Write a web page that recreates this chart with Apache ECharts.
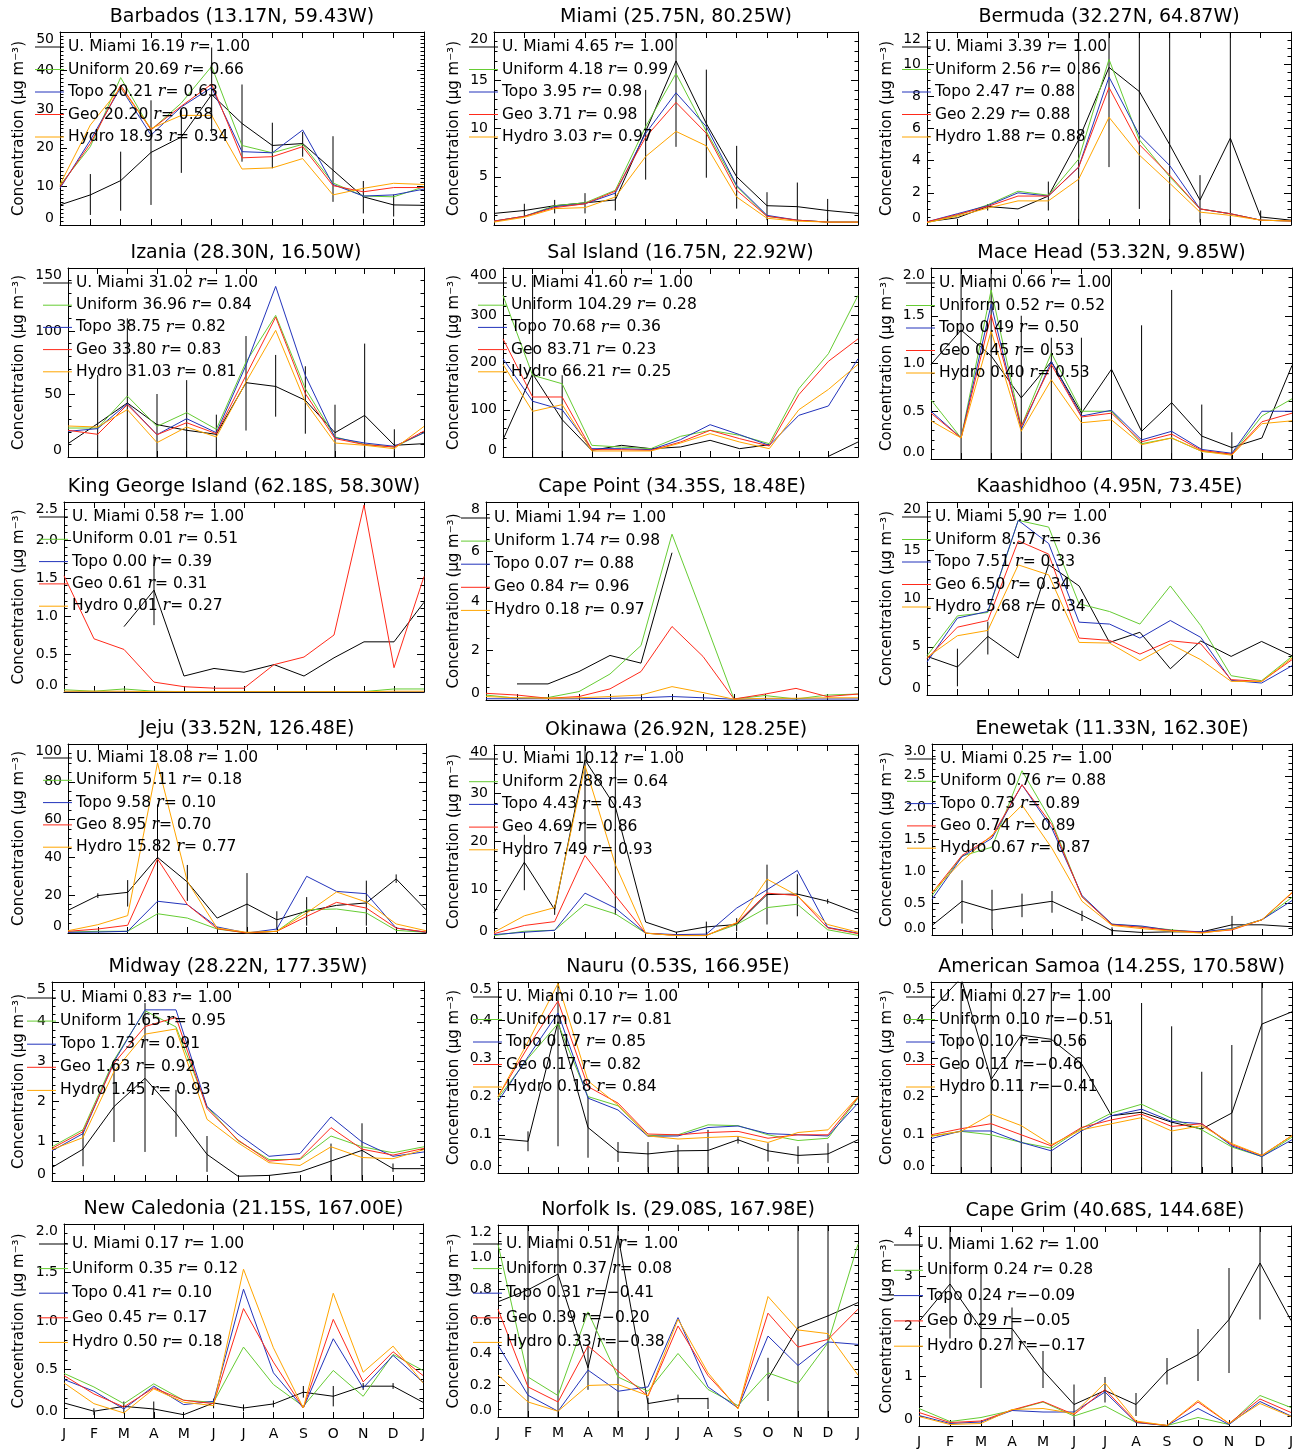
<!DOCTYPE html>
<html><head><meta charset="utf-8">
<script src="https://cdn.jsdelivr.net/npm/echarts@6/dist/echarts.min.js"></script>
<style>html,body{margin:0;padding:0;background:#fff}#c{width:1304px;height:1449px}</style>
</head><body><div id="c"></div>
<script>
const MONTHS = ['J','F','M','A','M','J','J','A','S','O','N','D','J'];
const MODEL_NAMES = ['U. Miami','Uniform','Topo','Geo','Hydro'];
const MODEL_COLORS = ['#000000','#66cc33','#2233bb','#ff2a1a','#ffa500'];

// ---- Barbados
const barbadosUMiami = [5.2, 7.8, 11.5, 18.8, 22.8, 33.8, 26.3, 20.6, 21.1, 14.2, 7.3, 5.2, 5.1];
const barbadosUniform = [10.3, 20.3, 38.2, 24.6, 31.6, 41.1, 20.6, 18.7, 20.9, 10.9, 7.5, 7.3, 9.9];
const barbadosTopo = [9.5, 22.0, 35.6, 23.3, 30.6, 35.6, 19.0, 18.7, 24.6, 10.5, 7.5, 7.8, 9.3];
const barbadosGeo = [9.9, 21.1, 36.2, 24.7, 30.8, 36.5, 17.4, 17.7, 20.3, 10.2, 8.6, 9.7, 9.7];
const barbadosHydro = [10.5, 25.9, 35.6, 25.0, 28.4, 28.4, 14.5, 14.8, 17.2, 7.8, 9.5, 10.8, 10.5];
const barbadosErrLo = [null, 2.6, 3.7, 5.2, 13.5, 23.7, 16.4, 14.7, 17.7, 6.0, 3.0, 2.2, null];
const barbadosErrHi = [null, 13.2, 19.0, 32.3, 29.7, 46.0, 36.4, 26.5, 24.1, 23.0, 11.4, 7.9, null];
const barbadosMeans = [16.19, 20.69, 20.21, 20.20, 18.93];
const barbadosR = [1.00, 0.66, 0.63, 0.58, 0.34];

// ---- Miami
const miamiUMiami = [1.2, 1.5, 2.0, 2.3, 2.6, 9.7, 17.0, 10.5, 5.0, 2.0, 1.9, 1.5, 1.2];
const miamiUniform = [0.4, 0.9, 2.0, 2.3, 3.6, 10.2, 15.7, 9.7, 4.0, 0.9, 0.5, 0.3, 0.3];
const miamiTopo = [0.4, 0.9, 1.9, 2.2, 3.3, 9.5, 13.7, 10.2, 4.1, 1.0, 0.5, 0.3, 0.3];
const miamiGeo = [0.4, 0.9, 1.8, 2.2, 3.5, 9.1, 12.7, 9.5, 3.6, 0.9, 0.5, 0.3, 0.3];
const miamiHydro = [0.3, 0.8, 1.7, 1.8, 2.9, 7.1, 9.7, 8.2, 2.9, 0.7, 0.4, 0.3, 0.3];
const miamiErrLo = [null, 0.9, 1.2, 1.2, 1.5, 4.7, 8.1, 4.9, 1.7, 0.5, 0.3, 0.2, null];
const miamiErrHi = [null, 2.2, 2.6, 3.3, 3.5, 14.0, 21.0, 16.1, 8.2, 3.4, 4.4, 2.7, null];
const miamiMeans = [4.65, 4.18, 3.95, 3.71, 3.03];
const miamiR = [1.00, 0.99, 0.98, 0.98, 0.97];

// ---- Bermuda
const bermudaUMiami = [0.2, 0.45, 1.15, 1.0, 1.8, 5.3, 9.8, 8.3, 5.0, 1.55, 5.4, 0.5, 0.3];
const bermudaUniform = [0.15, 0.6, 1.25, 2.1, 1.85, 4.1, 10.3, 5.3, 3.0, 1.0, 0.7, 0.3, 0.25];
const bermudaTopo = [0.2, 0.7, 1.2, 2.0, 1.8, 3.6, 9.2, 5.6, 3.7, 1.0, 0.7, 0.3, 0.25];
const bermudaGeo = [0.2, 0.65, 1.15, 1.8, 1.8, 3.6, 8.55, 5.0, 3.1, 1.0, 0.7, 0.3, 0.25];
const bermudaHydro = [0.15, 0.55, 1.05, 1.5, 1.5, 2.85, 6.7, 4.35, 2.6, 0.8, 0.6, 0.3, 0.25];
const bermudaErrLo = [null, null, 0.9, null, 0.9, -2.7, 3.6, 1.0, -3.0, 0.15, -2.6, 0.15, null];
const bermudaErrHi = [null, null, 1.3, null, 2.7, 13.3, 16.0, 15.6, 13.0, 3.1, 13.4, 0.9, null];
const bermudaMeans = [3.39, 2.56, 2.47, 2.29, 1.88];
const bermudaR = [1.00, 0.86, 0.88, 0.88, 0.88];

// ---- Izania
const izaniaUMiami = [10.6, 26.5, 42.9, 25.7, 21.2, 18.0, 59, 56, 45, 19.3, 33, 9.3, 10.6];
const izaniaUniform = [23, 23, 48.4, 24.3, 35.2, 22, 75.4, 112.4, 54.2, 15.9, 10, 7.9, 19.3];
const izaniaTopo = [20.4, 22.5, 42.3, 17.7, 30.4, 19.3, 72.8, 135.4, 64.8, 15.3, 11.1, 8.5, 19.3];
const izaniaGeo = [21.2, 18, 41.5, 17.7, 27.2, 18.5, 64.8, 111, 50.3, 14.6, 9.8, 7.9, 20.6];
const izaniaHydro = [24.6, 23.8, 37.6, 11.4, 23.8, 15.9, 59.5, 100.5, 43.6, 11.1, 9.3, 6.6, 24.3];
const izaniaErrLo = [null, -5, -5, -5, -5, -5, 21, 32, 18.5, -5, -5, -5, null];
const izaniaErrHi = [null, 65, 110, 50, 61, 33.6, 96, 81, 72, 41.5, 90, 22, null];
const izaniaMeans = [31.02, 36.96, 38.75, 33.80, 31.03];
const izaniaR = [1.00, 0.84, 0.82, 0.83, 0.81];

// ---- Sal Island
const salUMiami = [36.7, 176, 79, 14, 24.7, 17.6, 21.2, 35.3, 17.6, 26, null, 1.4, 31.7];
const salUniform = [342, 173, 155, 24.7, 21, 17.6, 43.7, 56.4, 45.9, 28.2, 144.6, 218.7, 342];
const salTopo = [208, 118, 100, 17.6, 17.6, 15.5, 36.7, 68.4, 47.3, 24.7, 88.2, 108, 208];
const salGeo = [250, 127, 127, 15.5, 15.5, 14.1, 31.7, 56.4, 38.8, 23.3, 132, 202.5, 250];
const salHydro = [196, 96.6, 110.8, 12.7, 12.7, 12.7, 29.6, 49.4, 31.7, 17.6, 100, 143, 196];
const salErrLo = [null, -10, -10, null, null, null, null, null, null, null, null, null, null];
const salErrHi = [null, 385, 173, null, null, null, null, null, null, null, null, null, null];
const salMeans = [41.60, 104.29, 70.68, 83.71, 66.21];
const salR = [1.00, 0.28, 0.36, 0.23, 0.25];

// ---- Mace Head
const maceUMiami = [0.99, 1.35, 1.08, 0.64, 1.02, 0.48, 0.94, 0.29, 0.59, 0.24, 0.12, 0.22, 0.98];
const maceUniform = [0.62, 0.22, 1.77, 0.34, 1.11, 0.5, 0.5, 0.16, 0.22, 0.08, 0.05, 0.45, 0.63];
const maceTopo = [0.5, 0.22, 1.62, 0.31, 1.02, 0.45, 0.51, 0.2, 0.29, 0.1, 0.06, 0.5, 0.5];
const maceGeo = [0.48, 0.22, 1.51, 0.34, 0.99, 0.44, 0.48, 0.18, 0.26, 0.09, 0.05, 0.39, 0.48];
const maceHydro = [0.4, 0.22, 1.34, 0.29, 0.83, 0.38, 0.41, 0.15, 0.22, 0.08, 0.04, 0.37, 0.4];
const maceErrLo = [null, -0.1, -0.1, -0.1, -0.1, -0.1, -0.1, -0.1, -0.1, -0.1, -0.05, null, null];
const maceErrHi = [null, 2.2, 2.2, 1.5, 1.27, 1.27, 2.2, 1.4, 1.77, 0.57, 0.28, null, null];
const maceMeans = [0.66, 0.52, 0.49, 0.45, 0.40];
const maceR = [1.00, 0.52, 0.50, 0.53, 0.53];

// ---- King George Island
const kgUMiami = [null, null, 0.86, 1.34, 0.21, 0.31, 0.26, 0.36, 0.21, 0.45, 0.66, 0.66, 1.18];
const kgUniform = [0.03, 0.01, 0.04, 0.01, 0.005, 0.005, 0.005, 0.005, 0.005, 0.005, 0.005, 0.04, 0.04];
const kgTopo = [0, 0, 0, 0, 0, 0, 0, 0, 0, 0, 0, 0, 0];
const kgGeo = [1.53, 0.7, 0.56, 0.13, 0.07, 0.05, 0.05, 0.36, 0.46, 0.75, 2.46, 0.32, 1.52];
const kgHydro = [0.01, 0.01, 0.01, 0.005, 0.005, 0.005, 0.005, 0.005, 0.005, 0.005, 0.005, 0.01, 0.01];
const kgErrLo = [null, null, null, 0.88, null, null, null, null, null, null, null, null, null];
const kgErrHi = [null, null, null, 1.81, null, null, null, null, null, null, null, null, null];
const kgMeans = [0.58, 0.01, 0.00, 0.61, 0.01];
const kgR = [1.00, 0.51, 0.39, 0.31, 0.27];

// ---- Cape Point
const cpUMiami = [null, 0.65, 0.65, 1.15, 1.8, 1.49, 5.95, null, null, null, null, null, null];
const cpUniform = [0.2, 0.07, 0.1, 0.34, 1.05, 2.2, 6.7, 3.4, 0.04, 0.18, 0.04, 0.2, 0.24];
const cpTopo = [0.05, 0.05, 0.05, 0.05, 0.07, 0.09, 0.14, 0.09, 0.03, 0.04, 0.04, 0.04, 0.04];
const cpGeo = [0.27, 0.2, 0.07, 0.14, 0.45, 1.15, 2.97, 1.76, 0.04, 0.24, 0.47, 0.14, 0.24];
const cpHydro = [0.14, 0.09, 0.07, 0.09, 0.14, 0.2, 0.54, 0.3, 0.03, 0.07, 0.07, 0.09, 0.09];
const cpErrLo = [null, null, null, null, null, null, null, null, null, null, null, null, null];
const cpErrHi = [null, null, null, null, null, null, null, null, null, null, null, null, null];
const cpMeans = [1.94, 1.74, 0.07, 0.84, 0.18];
const cpR = [1.00, 0.98, 0.88, 0.96, 0.97];

// ---- Kaashidhoo
const kaUMiami = [4.0, 2.9, 6.07, 3.83, 13.5, 11.3, 5.45, 6.5, 2.72, 5.6, 4.0, 5.55, 4.07];
const kaUniform = [4.07, 8.2, 8.55, 18.1, 17.4, 9.45, 8.65, 7.35, 11.3, 7.2, 2.0, 1.48, 4.0];
const kaTopo = [3.41, 7.97, 8.66, 18.1, 15.7, 7.55, 7.35, 5.9, 7.72, 5.97, 1.52, 1.24, 3.03];
const kaGeo = [3.76, 7.03, 7.72, 15.97, 14.6, 5.9, 5.66, 4.24, 5.62, 5.31, 1.59, 1.41, 3.66];
const kaHydro = [3.9, 6.14, 6.69, 13.48, 12.45, 5.45, 5.38, 3.55, 5.28, 3.66, 1.41, 1.41, 3.83];
const kaErrLo = [null, 0.9, 4.2, null, null, null, null, null, null, null, null, null, null];
const kaErrHi = [null, 4.8, 7.6, null, null, null, null, null, null, null, null, null, null];
const kaMeans = [5.90, 8.57, 7.51, 6.50, 5.68];
const kaR = [1.00, 0.36, 0.33, 0.34, 0.34];

// ---- Jeju
const jejuUMiami = [12, 19.8, 21.5, 40, 27, 7.9, 15.3, 7, 11.5, 14.6, 15.9, 28.6, 12.3];
const jejuUniform = [0.5, 0.9, 0.9, 10.2, 7.9, 2.1, 0, 0.9, 12.3, 12.7, 10.6, 1.4, 0.35];
const jejuTopo = [0.35, 0.5, 0.9, 16.8, 15, 3.2, 0, 2.1, 30, 22, 20.8, 2.6, 0.35];
const jejuGeo = [0.9, 2.1, 4.1, 39.2, 15, 2.3, 0, 0.9, 8.8, 16.2, 13.2, 2.6, 0.5];
const jejuHydro = [1.2, 4.4, 9.2, 90, 27.3, 2.6, 0.35, 0.9, 10.6, 21.7, 16.4, 4.8, 1.2];
const jejuErrLo = [null, 18.5, 14, -5, 17, null, -5, 1.8, 3.9, null, 3.9, 26.5, null];
const jejuErrHi = [null, 21, 28, 68, 36, null, 31.7, 11.5, 19, null, 27.7, 31, null];
const jejuMeans = [18.08, 5.11, 9.58, 8.95, 15.82];
const jejuR = [1.00, 0.18, 0.10, 0.70, 0.77];

// ---- Okinawa
const okiUMiami = [5.2, 15.7, 5.9, 36.9, 27.2, 3.3, 1.2, 2.3, 2.8, 9.0, 9.1, 7.6, 5.2];
const okiUniform = [0.5, 1.4, 1.6, 7.0, 5.0, 1.0, 0.55, 0.55, 2.8, 6.3, 7.0, 1.7, 0.55];
const okiTopo = [0.7, 1.2, 1.6, 9.3, 6.2, 1.0, 0.7, 0.8, 6.2, 10, 14, 2.2, 1.0];
const okiGeo = [0.9, 2.6, 3.4, 17.1, 8.8, 1.0, 0.55, 0.55, 3.1, 9.3, 8.8, 2.1, 0.9];
const okiHydro = [1.2, 4.6, 6.3, 35.7, 15.2, 1.0, 0.5, 0.5, 3.2, 12.2, 8.8, 2.8, 1.2];
const okiErrLo = [null, 9.9, 4.8, 17.6, 4.8, null, null, 0.9, 1.4, 2.8, 4.5, 7.1, null];
const okiErrHi = [null, 21.4, 6.9, 45, 45, null, null, 3.4, 4.1, 15.2, 13.2, 8.1, null];
const okiMeans = [10.12, 2.88, 4.43, 4.69, 7.49];
const okiR = [1.00, 0.64, 0.43, 0.86, 0.93];

// ---- Enewetak
const eneUMiami = [0.15, 0.53, 0.39, 0.46, 0.53, 0.31, 0.07, 0.04, 0.05, 0.05, 0.16, 0.16, 0.13];
const eneUniform = [0.62, 1.24, 1.38, 2.58, 1.77, 0.6, 0.17, 0.13, 0.08, 0.04, 0.1, 0.24, 0.59];
const eneTopo = [0.56, 1.23, 1.52, 2.36, 1.67, 0.62, 0.17, 0.14, 0.07, 0.05, 0.1, 0.24, 0.54];
const eneGeo = [0.66, 1.25, 1.55, 2.36, 1.73, 0.6, 0.16, 0.12, 0.07, 0.04, 0.08, 0.24, 0.66];
const eneHydro = [0.67, 1.16, 1.57, 2.04, 1.36, 0.53, 0.15, 0.1, 0.06, 0.03, 0.09, 0.24, 0.67];
const eneErrLo = [null, 0.18, 0.08, 0.28, 0.35, 0.22, 0.0, null, null, null, 0.08, null, null];
const eneErrHi = [null, 0.86, 0.71, 0.65, 0.69, 0.38, 0.12, null, null, null, 0.3, null, null];
const eneMeans = [0.25, 0.76, 0.73, 0.74, 0.67];
const eneR = [1.00, 0.88, 0.89, 0.89, 0.87];

// ---- Midway
const midUMiami = [0.34, 0.8, 1.87, 2.58, 1.7, 0.67, 0.12, 0.14, 0.23, 0.5, 0.77, 0.31, 0.31];
const midUniform = [0.86, 1.29, 3.04, 4.28, 3.87, 1.87, 1.01, 0.54, 0.54, 1.13, 0.86, 0.71, 0.86];
const midTopo = [0.76, 1.19, 3.0, 4.3, 4.3, 1.87, 1.18, 0.62, 0.69, 1.61, 0.98, 0.62, 0.73];
const midGeo = [0.82, 1.24, 2.96, 3.88, 4.11, 1.82, 1.03, 0.5, 0.56, 1.34, 0.8, 0.65, 0.82];
const midHydro = [0.79, 1.09, 2.75, 3.69, 3.82, 1.55, 0.96, 0.46, 0.39, 0.86, 0.59, 0.56, 0.79];
const midErrLo = [null, 0.37, 0.98, 0.73, 1.11, 0.23, null, null, null, 0.02, 0.02, 0.23, null];
const midErrHi = [null, 1.28, 2.96, 4.47, 2.29, 1.13, null, null, null, 0.94, 1.45, 0.44, null];
const midMeans = [0.83, 1.65, 1.73, 1.63, 1.45];
const midR = [1.00, 0.95, 0.91, 0.92, 0.93];

// ---- Nauru
const nauUMiami = [0.09, 0.083, 0.396, 0.119, 0.055, 0.05, 0.058, 0.059, 0.087, 0.058, 0.046, 0.05, 0.087];
const nauUniform = [0.196, 0.3, 0.391, 0.2, 0.176, 0.098, 0.1, 0.126, 0.124, 0.1, 0.085, 0.091, 0.196];
const nauTopo = [0.187, 0.304, 0.419, 0.196, 0.165, 0.096, 0.097, 0.119, 0.123, 0.103, 0.1, 0.097, 0.183];
const nauGeo = [0.2, 0.33, 0.45, 0.226, 0.183, 0.102, 0.1, 0.106, 0.109, 0.091, 0.1, 0.1, 0.198];
const nauHydro = [0.2, 0.343, 0.496, 0.241, 0.178, 0.097, 0.089, 0.093, 0.096, 0.08, 0.106, 0.113, 0.2];
const nauErrLo = [null, 0.057, 0.07, 0.04, 0.029, 0.002, -0.01, -0.01, 0.077, 0.03, 0.024, 0.026, null];
const nauErrHi = [null, 0.109, 0.55, 0.2, 0.081, 0.081, 0.074, 0.113, 0.096, 0.078, 0.07, 0.078, null];
const nauMeans = [0.10, 0.17, 0.17, 0.17, 0.18];
const nauR = [1.00, 0.81, 0.85, 0.82, 0.84];

// ---- American Samoa
const samUMiami = [0.426, 0.51, 0.245, 0.361, 0.35, 0.287, 0.15, 0.159, 0.133, 0.115, 0.157, 0.39, 0.422];
const samUniform = [0.097, 0.109, 0.1, 0.08, 0.065, 0.117, 0.157, 0.18, 0.143, 0.113, 0.068, 0.043, 0.094];
const samTopo = [0.09, 0.11, 0.11, 0.08, 0.058, 0.11, 0.15, 0.167, 0.135, 0.129, 0.071, 0.043, 0.087];
const samGeo = [0.1, 0.116, 0.129, 0.1, 0.071, 0.119, 0.139, 0.154, 0.122, 0.129, 0.074, 0.046, 0.098];
const samHydro = [0.096, 0.109, 0.154, 0.124, 0.074, 0.113, 0.129, 0.145, 0.11, 0.124, 0.077, 0.046, 0.098];
const samErrLo = [null, -0.1, -0.1, -0.1, -0.1, -0.1, -0.1, -0.13, -0.12, -0.035, -0.02, -0.1, null];
const samErrHi = [null, 1.0, 0.6, 0.8, 0.6, 0.6, 0.4, 0.445, 0.384, 0.265, 0.335, 0.8, null];
const samMeans = [0.27, 0.10, 0.10, 0.11, 0.11];
const samR = [1.00, -0.51, -0.56, -0.46, -0.41];

// ---- New Caledonia
const ncUMiami = [0.155, 0.07, 0.12, 0.093, 0.034, 0.155, 0.103, 0.145, 0.266, 0.224, 0.328, 0.328, 0.162];
const ncUniform = [0.46, 0.32, 0.148, 0.352, 0.183, 0.162, 0.731, 0.345, 0.12, 0.49, 0.224, 0.655, 0.49];
const ncTopo = [0.397, 0.276, 0.093, 0.328, 0.138, 0.172, 1.328, 0.466, 0.103, 0.817, 0.31, 0.645, 0.369];
const ncGeo = [0.438, 0.248, 0.114, 0.31, 0.183, 0.148, 1.128, 0.576, 0.103, 1.017, 0.372, 0.683, 0.438];
const ncHydro = [0.362, 0.148, 0.052, 0.3, 0.162, 0.128, 1.534, 0.724, 0.103, 1.286, 0.472, 0.741, 0.362];
const ncErrLo = [null, 0.03, 0.05, 0.0, null, 0.1, 0.07, 0.11, 0.21, 0.12, 0.29, 0.3, null];
const ncErrHi = [null, 0.1, 0.17, 0.17, null, 0.2, 0.14, 0.18, 0.33, 0.33, 0.36, 0.36, null];
const ncMeans = [0.17, 0.35, 0.41, 0.45, 0.50];
const ncR = [1.00, 0.12, 0.10, 0.17, 0.18];

// ---- Norfolk Is.
const nfUMiami = [0.72, 0.795, 0.893, 0.308, 1.134, 0.084, 0.115, 0.115, null, 0.24, 0.559, 0.632, 0.715];
const nfUniform = [1.08, 0.25, 0.134, 0.657, 0.25, 0.161, 0.397, 0.172, 0.071, 0.276, 0.209, 0.464, 1.08];
const nfTopo = [0.45, 0.136, 0.036, 0.293, 0.161, 0.188, 0.621, 0.188, 0.056, 0.506, 0.322, 0.469, 0.454];
const nfGeo = [0.674, 0.188, 0.094, 0.444, 0.287, 0.13, 0.569, 0.259, 0.056, 0.649, 0.437, 0.485, 0.674];
const nfHydro = [0.262, 0.094, 0.036, 0.197, 0.203, 0.134, 0.611, 0.276, 0.05, 0.753, 0.544, 0.521, 0.262];
const nfErrLo = [null, -0.2, -0.1, 0.17, -0.1, 0.04, 0.09, 0.05, null, 0.1, -0.1, -0.1, null];
const nfErrHi = [null, 1.8, 1.9, 0.45, 2.4, 0.12, 0.14, 0.12, null, 0.37, 1.3, 1.3, null];
const nfMeans = [0.51, 0.37, 0.31, 0.39, 0.33];
const nfR = [1.00, 0.08, -0.41, -0.20, -0.38];

// ---- Cape Grim
const cgUMiami = [2.09, 2.84, 1.95, 1.95, 1.11, 0.43, 0.71, 0.43, 1.1, 1.43, 2.13, 3.26, 2.11];
const cgUniform = [0.35, 0.09, 0.17, 0.31, 0.48, 0.2, 0.4, 0.07, 0.01, 0.17, 0.03, 0.61, 0.37];
const cgTopo = [0.21, 0.05, 0.08, 0.31, 0.28, 0.28, 0.68, 0.07, 0.01, 0.35, 0.03, 0.49, 0.2];
const cgGeo = [0.27, 0.07, 0.1, 0.32, 0.49, 0.23, 0.73, 0.08, 0.01, 0.48, 0.05, 0.54, 0.27];
const cgHydro = [0.19, 0.03, 0.05, 0.33, 0.35, 0.25, 0.86, 0.1, 0.01, 0.51, 0.05, 0.45, 0.19];
const cgErrLo = [null, 1.75, 0.76, 1.53, 0.76, -0.05, 0.47, 0.2, 0.83, 0.9, 1.06, 2.13, null];
const cgErrHi = [null, 4.2, 3.06, 2.37, 1.5, 0.83, 0.98, 0.66, 1.36, 1.94, 3.16, 4.4, null];
const cgMeans = [1.62, 0.24, 0.24, 0.29, 0.27];
const cgR = [1.00, 0.28, -0.09, -0.05, -0.17];

// ---- Panels: data references + axis scale settings + layout
const stations = [
  {title:'Barbados (13.17N, 59.43W)', s:[barbadosUMiami,barbadosUniform,barbadosTopo,barbadosGeo,barbadosHydro], lo:barbadosErrLo, hi:barbadosErrHi, means:barbadosMeans, r:barbadosR, box:[60,32,424,225], max:50, interval:10, minor:10, dec:0, lg:[15,22.5]},
  {title:'Miami (25.75N, 80.25W)', s:[miamiUMiami,miamiUniform,miamiTopo,miamiGeo,miamiHydro], lo:miamiErrLo, hi:miamiErrHi, means:miamiMeans, r:miamiR, box:[494,32,858,225], max:20, interval:5, minor:5, dec:0, lg:[15,22.5]},
  {title:'Bermuda (32.27N, 64.87W)', s:[bermudaUMiami,bermudaUniform,bermudaTopo,bermudaGeo,bermudaHydro], lo:bermudaErrLo, hi:bermudaErrHi, means:bermudaMeans, r:bermudaR, box:[927,32,1291,225], max:12, interval:2, minor:4, dec:0, lg:[15,22.5]},
  {title:'Izania (28.30N, 16.50W)', s:[izaniaUMiami,izaniaUniform,izaniaTopo,izaniaGeo,izaniaHydro], lo:izaniaErrLo, hi:izaniaErrHi, means:izaniaMeans, r:izaniaR, box:[68,268,424,457], max:150, interval:50, minor:5, dec:0, lg:[15,22.2]},
  {title:'Sal Island (16.75N, 22.92W)', s:[salUMiami,salUniform,salTopo,salGeo,salHydro], lo:salErrLo, hi:salErrHi, means:salMeans, r:salR, box:[503,268,858,457], max:400, interval:100, minor:5, dec:0, lg:[15,22.2]},
  {title:'Mace Head (53.32N, 9.85W)', s:[maceUMiami,maceUniform,maceTopo,maceGeo,maceHydro], lo:maceErrLo, hi:maceErrHi, means:maceMeans, r:maceR, box:[931,268,1292,459], max:2.0, interval:0.5, minor:5, dec:1, lg:[15,22.5]},
  {title:'King George Island (62.18S, 58.30W)', s:[kgUMiami,kgUniform,kgTopo,kgGeo,kgHydro], lo:kgErrLo, hi:kgErrHi, means:kgMeans, r:kgR, box:[64,502,424,692], max:2.5, interval:0.5, minor:5, dec:1, lg:[15,22.3]},
  {title:'Cape Point (34.35S, 18.48E)', s:[cpUMiami,cpUniform,cpTopo,cpGeo,cpHydro], lo:cpErrLo, hi:cpErrHi, means:cpMeans, r:cpR, box:[486,502,858,700], max:8, interval:2, minor:4, dec:0, lg:[16,23.1]},
  {title:'Kaashidhoo (4.95N, 73.45E)', s:[kaUMiami,kaUniform,kaTopo,kaGeo,kaHydro], lo:kaErrLo, hi:kaErrHi, means:kaMeans, r:kaR, box:[927,502,1292,695], max:20, interval:5, minor:5, dec:0, lg:[15,22.5]},
  {title:'Jeju (33.52N, 126.48E)', s:[jejuUMiami,jejuUniform,jejuTopo,jejuGeo,jejuHydro], lo:jejuErrLo, hi:jejuErrHi, means:jejuMeans, r:jejuR, box:[68,744,426,933], max:100, interval:20, minor:4, dec:0, lg:[14,22.3]},
  {title:'Okinawa (26.92N, 128.25E)', s:[okiUMiami,okiUniform,okiTopo,okiGeo,okiHydro], lo:okiErrLo, hi:okiErrHi, means:okiMeans, r:okiR, box:[494,745,858,938], max:40, interval:10, minor:5, dec:0, lg:[14,22.7]},
  {title:'Enewetak (11.33N, 162.30E)', s:[eneUMiami,eneUniform,eneTopo,eneGeo,eneHydro], lo:eneErrLo, hi:eneErrHi, means:eneMeans, r:eneR, box:[932,744,1292,935], max:3.0, interval:0.5, minor:5, dec:1, lg:[15,22.3]},
  {title:'Midway (28.22N, 177.35W)', s:[midUMiami,midUniform,midTopo,midGeo,midHydro], lo:midErrLo, hi:midErrHi, means:midMeans, r:midR, box:[52,982,424,1181], max:5, interval:1, minor:5, dec:0, lg:[16,23.1]},
  {title:'Nauru (0.53S, 166.95E)', s:[nauUMiami,nauUniform,nauTopo,nauGeo,nauHydro], lo:nauErrLo, hi:nauErrHi, means:nauMeans, r:nauR, box:[498,982,858,1173], max:0.5, interval:0.1, minor:5, dec:1, lg:[15,22.5]},
  {title:'American Samoa (14.25S, 170.58W)', s:[samUMiami,samUniform,samTopo,samGeo,samHydro], lo:samErrLo, hi:samErrHi, means:samMeans, r:samR, box:[931,982,1292,1173], max:0.5, interval:0.1, minor:5, dec:1, lg:[15,22.5]},
  {title:'New Caledonia (21.15S, 167.00E)', s:[ncUMiami,ncUniform,ncTopo,ncGeo,ncHydro], lo:ncErrLo, hi:ncErrHi, means:ncMeans, r:ncR, box:[64,1224,423,1418], max:2.0, interval:0.5, minor:5, dec:1, lg:[20,24.6]},
  {title:'Norfolk Is. (29.08S, 167.98E)', s:[nfUMiami,nfUniform,nfTopo,nfGeo,nfHydro], lo:nfErrLo, hi:nfErrHi, means:nfMeans, r:nfR, box:[498,1225,858,1417], max:1.2, interval:0.2, minor:4, dec:1, lg:[19,24.6]},
  {title:'Cape Grim (40.68S, 144.68E)', s:[cgUMiami,cgUniform,cgTopo,cgGeo,cgHydro], lo:cgErrLo, hi:cgErrHi, means:cgMeans, r:cgR, box:[919,1226,1291,1427], max:4, interval:1, minor:5, dec:0, lg:[19,25.3]}
];

const FONT = '"DejaVu Sans", sans-serif';
const NAME_X = [18, 453, 886];

const grid = [], xAxis = [], yAxis = [], series = [], graphic = [];

function fmtR(v) {
  return v < 0 ? '=\u2212' + Math.abs(v).toFixed(2) : '= ' + v.toFixed(2);
}

stations.forEach((st, k) => {
  const [L, T, R, B] = st.box;
  const col = L < 450 ? 0 : (L < 900 ? 1 : 2);
  grid.push({left: L, top: T, width: R - L, height: B - T, containLabel: false});

  const xBase = {
    type: 'value', gridIndex: k, min: 0, max: 12, interval: 1,
    splitLine: {show: false},
    axisLine: {show: true, onZero: false, lineStyle: {color: '#000', width: 1}},
    axisTick: {show: true, inside: true, length: 6, lineStyle: {color: '#000', width: 1}}
  };
  xAxis.push(Object.assign({}, xBase, {
    position: 'bottom',
    axisLabel: {show: k >= 15, margin: 9, color: '#000', fontSize: 14, fontFamily: FONT,
      formatter: v => MONTHS[Math.round(v)] || ''}
  }));
  xAxis.push(Object.assign({}, xBase, {position: 'top', axisLabel: {show: false}}));

  const yBase = {
    type: 'value', gridIndex: k, min: 0, max: st.max, interval: st.interval,
    splitLine: {show: false},
    axisLine: {show: true, onZero: false, lineStyle: {color: '#000', width: 1}},
    axisTick: {show: true, inside: true, length: 7, lineStyle: {color: '#000', width: 1}},
    minorTick: {show: true, splitNumber: st.minor, length: 3.5, lineStyle: {color: '#000', width: 1}},
    minorSplitLine: {show: false}
  };
  const nameGap = L - NAME_X[col] - 9;
  yAxis.push(Object.assign({}, yBase, {
    position: 'left',
    axisLabel: {show: true, margin: 6, color: '#000', fontSize: 14, fontFamily: FONT,
      formatter: v => Number(v).toFixed(st.dec),
      verticalAlignMinLabel: 'bottom', verticalAlignMaxLabel: 'top'},
    name: 'Concentration (\u03bcg m\u207b\u00b3)',
    nameLocation: 'middle', nameRotate: 90, nameGap: nameGap, nameMoveOverlap: false,
    nameTextStyle: {color: '#000', fontSize: 15, fontFamily: FONT}
  }));
  yAxis.push(Object.assign({}, yBase, {position: 'right', axisLabel: {show: false}}));

  // model lines
  st.s.forEach((arr, m) => {
    series.push({
      type: 'line', xAxisIndex: 2 * k, yAxisIndex: 2 * k,
      data: arr.map((v, i) => [i, v]),
      showSymbol: false, symbol: 'none', silent: true, animation: false,
      connectNulls: false, clip: true,
      lineStyle: {color: MODEL_COLORS[m], width: 1},
      itemStyle: {color: MODEL_COLORS[m]},
      z: 2 + m
    });
  });

  // error bars for the U. Miami observations
  const errData = [];
  st.lo.forEach((lo, i) => {
    const hi = st.hi[i];
    if (lo != null && hi != null) errData.push([i, lo, hi]);
  });
  series.push({
    type: 'custom', xAxisIndex: 2 * k, yAxisIndex: 2 * k,
    data: errData, encode: {x: 0, y: [1, 2]}, silent: true, animation: false, z: 2,
    renderItem: (params, api) => {
      const cs = params.coordSys;
      const p1 = api.coord([api.value(0), api.value(1)]);
      const p2 = api.coord([api.value(0), api.value(2)]);
      const yTop = cs.y, yBot = cs.y + cs.height;
      const clamp = y => Math.max(yTop, Math.min(yBot, y));
      return {type: 'line', shape: {x1: p1[0], y1: clamp(p1[1]), x2: p2[0], y2: clamp(p2[1])},
        style: {stroke: '#000', lineWidth: 1}};
    }
  });

  // title
  graphic.push({type: 'text', x: (L + R) / 2, y: T - 15, silent: true,
    style: {text: st.title, fill: '#000', fontSize: 19, fontFamily: FONT, align: 'center', verticalAlign: 'middle'}});

  // legend
  MODEL_NAMES.forEach((nm, m) => {
    const yy = T + st.lg[0] + m * st.lg[1];
    graphic.push({type: 'line', silent: true, z: 50,
      shape: {x1: L - 25, y1: yy, x2: L + 4, y2: yy},
      style: {stroke: MODEL_COLORS[m], lineWidth: 1}});
    graphic.push({type: 'text', x: L + 8, y: yy, silent: true, z: 50,
      style: {
        text: '{n|' + nm + ' ' + st.means[m].toFixed(2) + ' }{i|r}{n|' + fmtR(st.r[m]) + '}',
        align: 'left', verticalAlign: 'middle',
        rich: {
          n: {fontSize: 15.5, fontFamily: FONT, fill: '#000', color: '#000'},
          i: {fontSize: 16, fontFamily: '"DejaVu Serif", serif', fontStyle: 'italic', fill: '#000', color: '#000'}
        }
      }});
  });
});

const chart = echarts.init(document.getElementById('c'), null, {renderer: 'canvas'});
chart.setOption({
  animation: false,
  backgroundColor: '#fff',
  textStyle: {fontFamily: FONT},
  grid, xAxis, yAxis, series, graphic
});
</script>
</body></html>
